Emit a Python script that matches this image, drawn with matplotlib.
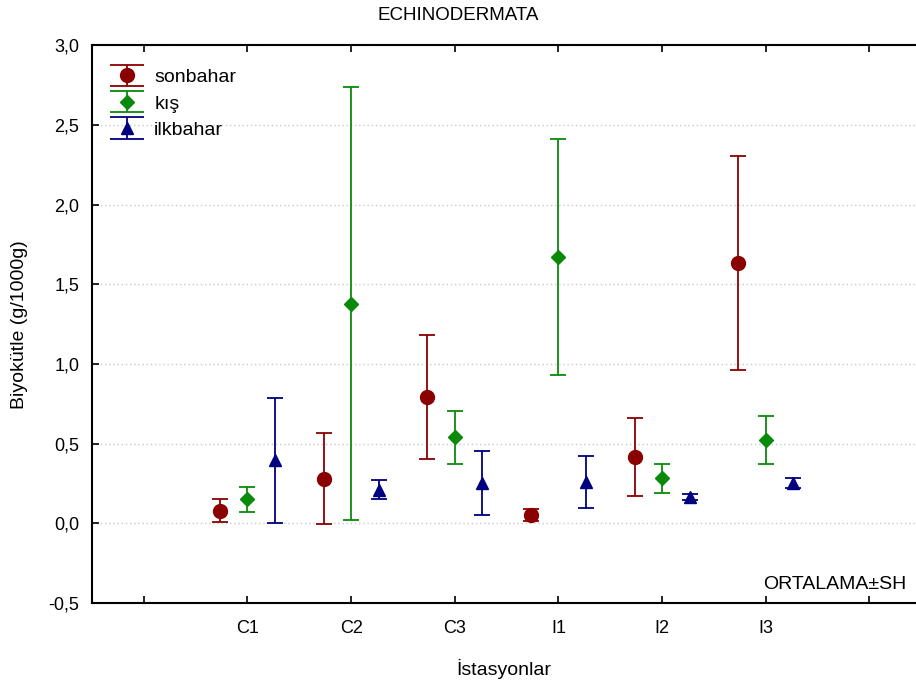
import matplotlib
matplotlib.use('Agg')
import matplotlib.pyplot as plt
from matplotlib.legend_handler import HandlerErrorbar
from matplotlib.lines import Line2D
import numpy as np

plt.rcParams['font.family'] = ['Liberation Sans', 'DejaVu Sans']

stations = ['C1', 'C2', 'C3', 'I1', 'I2', 'I3']

# mean and standard error for each season
sonbahar_mean = [0.08, 0.28, 0.795, 0.052, 0.417, 1.635]
sonbahar_se = [0.07, 0.285, 0.39, 0.037, 0.247, 0.67]
kis_mean = [0.15, 1.38, 0.54, 1.671, 0.282, 0.521]
kis_se = [0.077, 1.36, 0.168, 0.741, 0.089, 0.151]
ilkbahar_mean = [0.395, 0.212, 0.252, 0.258, 0.165, 0.253]
ilkbahar_se = [0.395, 0.062, 0.2, 0.163, 0.018, 0.032]

series = [
    ('sonbahar', sonbahar_mean, sonbahar_se, '#8b0000', 'o', 10, -0.265),
    ('kış', kis_mean, kis_se, '#0a8a0a', 'D', 7, 0.0),
    ('ilkbahar', ilkbahar_mean, ilkbahar_se, '#000080', '^', 8.5, 0.265),
]


class WideCapHandler(HandlerErrorbar):
    # legend key with caps as wide as the key itself
    def create_artists(self, *args, **kwargs):
        artists = super().create_artists(*args, **kwargs)
        for a in artists:
            if isinstance(a, Line2D) and a.get_marker() == '_':
                a.set_markersize(25)
        return artists


fig = plt.figure(figsize=(9.16, 6.83), dpi=100)
ax = fig.add_axes([0.1004, 0.1171, 0.8996, 0.8163])

x = np.arange(len(stations))
handles = []
for name, m, se, col, mk, ms, off in series:
    h = ax.errorbar(x + off, m, yerr=se, fmt=mk, color=col, ecolor=col,
                    markersize=ms, capsize=6, elinewidth=1.3, capthick=1.3,
                    label=name)
    handles.append(h)

ax.set_xlim(-1.5, 6.45)
ax.set_ylim(-0.5, 3.0)
ax.set_xticks(np.arange(-1, 7))
ax.set_xticklabels([''] + stations + [''])
yt = np.arange(-0.5, 3.01, 0.5)
ax.set_yticks(yt)
ax.set_yticklabels([('%.1f' % v).replace('.', ',') for v in yt])
ax.tick_params(direction='in', length=5, width=1.2, labelsize=13, top=True,
               pad=9)
ax.tick_params(axis='x', pad=12)
ax.yaxis.grid(True, linestyle=(0, (1, 2)), color='#c8c8c8', linewidth=1)
ax.set_axisbelow(True)
for s in ['left', 'bottom', 'top']:
    ax.spines[s].set_linewidth(1.5)
ax.spines['right'].set_visible(False)

ax.set_ylabel('Biyokütle (g/1000g)', fontsize=14, labelpad=15)
ax.set_xlabel('İstasyonlar', fontsize=14, labelpad=16)
fig.text(0.5, 0.978, 'ECHINODERMATA', ha='center', va='center', fontsize=13.5)
ax.text(0.988, 0.018, 'ORTALAMA±SH', transform=ax.transAxes, ha='right',
        va='bottom', fontsize=14)

ax.legend(handles=handles, loc='upper left', frameon=False, fontsize=14,
          handlelength=1.8, bbox_to_anchor=(0.0, 0.99),
          handletextpad=0.5, labelspacing=0.45,
          handler_map={type(handles[0]): WideCapHandler(yerr_size=0.55)})

fig.savefig('out.png', dpi=100)
